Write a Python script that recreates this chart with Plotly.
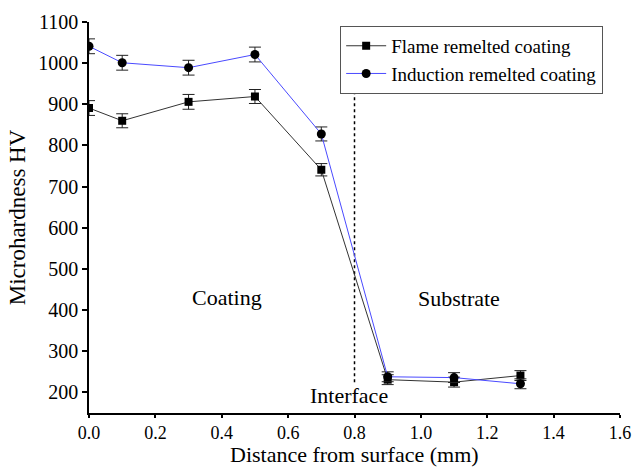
import plotly.graph_objects as go

distance = [0.0, 0.1, 0.3, 0.5, 0.7, 0.9, 1.1, 1.3]
flame_hv = [891, 860, 906, 919, 741, 231, 225, 241]
flame_err = [18, 17, 18, 17, 15, 12, 12, 12]
induction_hv = [1041, 1001, 989, 1021, 828, 238, 236, 221]
induction_err = [18, 18, 18, 18, 17, 12, 12, 12]
interface_x = [0.8, 0.8]
interface_y = [225, 952]

FONT = "Liberation Serif"

fig = go.Figure()
fig.add_trace(go.Scatter(
    x=interface_x, y=interface_y, mode="lines",
    line=dict(color="black", width=1.5, dash="dot"),
    showlegend=False, hoverinfo="skip"))
fig.add_trace(go.Scatter(
    x=distance, y=flame_hv, mode="lines+markers", name="Flame remelted coating",
    line=dict(color="#333333", width=1),
    marker=dict(symbol="square", size=8, color="black"),
    error_y=dict(type="data", array=flame_err, color="#222222", thickness=1, width=6)))
fig.add_trace(go.Scatter(
    x=distance, y=induction_hv, mode="lines+markers", name="Induction remelted coating",
    line=dict(color="#4a4aff", width=1),
    marker=dict(symbol="circle", size=9, color="black"),
    error_y=dict(type="data", array=induction_err, color="#222222", thickness=1, width=6)))

for txt, x, y in [("Coating", 0.417, 430), ("Substrate", 1.114, 428), ("Interface", 0.784, 193)]:
    fig.add_annotation(x=x, y=y, text=txt, showarrow=False,
                       font=dict(family=FONT, size=22, color="black"))

fig.add_annotation(x=0.5, y=-0.106, xref="paper", yref="paper", xanchor="center", yanchor="middle",
                   text="Distance from surface (mm)", showarrow=False,
                   font=dict(family=FONT, size=22, color="black"))

fig.update_layout(
    width=633, height=468,
    margin=dict(l=89, r=13, t=22, b=55, autoexpand=False),
    paper_bgcolor="white", plot_bgcolor="white",
    font=dict(family=FONT, size=20, color="black"),
    showlegend=True,
    legend=dict(x=0.473, y=0.99, xanchor="left", yanchor="top",
                bordercolor="#555555", borderwidth=1, bgcolor="white",
                font=dict(family=FONT, size=19), tracegroupgap=0,
                itemwidth=40),
    xaxis=dict(range=[0, 1.6], dtick=0.2, tickformat=".1f",
               showline=True, linecolor="black", linewidth=1.5,
               ticks="outside", ticklen=3, tickwidth=1.5, tickcolor="black",
               showgrid=False, zeroline=False,
               tickfont=dict(family=FONT, size=18)),
    yaxis=dict(range=[150, 1100], tickvals=[200, 300, 400, 500, 600, 700, 800, 900, 1000, 1100],
               showline=True, linecolor="black", linewidth=1.5,
               ticks="outside", ticklen=5, tickwidth=1.5, tickcolor="black",
               showgrid=False, zeroline=False,
               title=dict(text="Microhardness HV", font=dict(family=FONT, size=23), standoff=6),
               tickfont=dict(family=FONT, size=20)),
)

fig.write_html("out.html", config={"displayModeBar": False},
               post_script="document.body.style.margin='0';document.body.style.overflow='hidden';")
